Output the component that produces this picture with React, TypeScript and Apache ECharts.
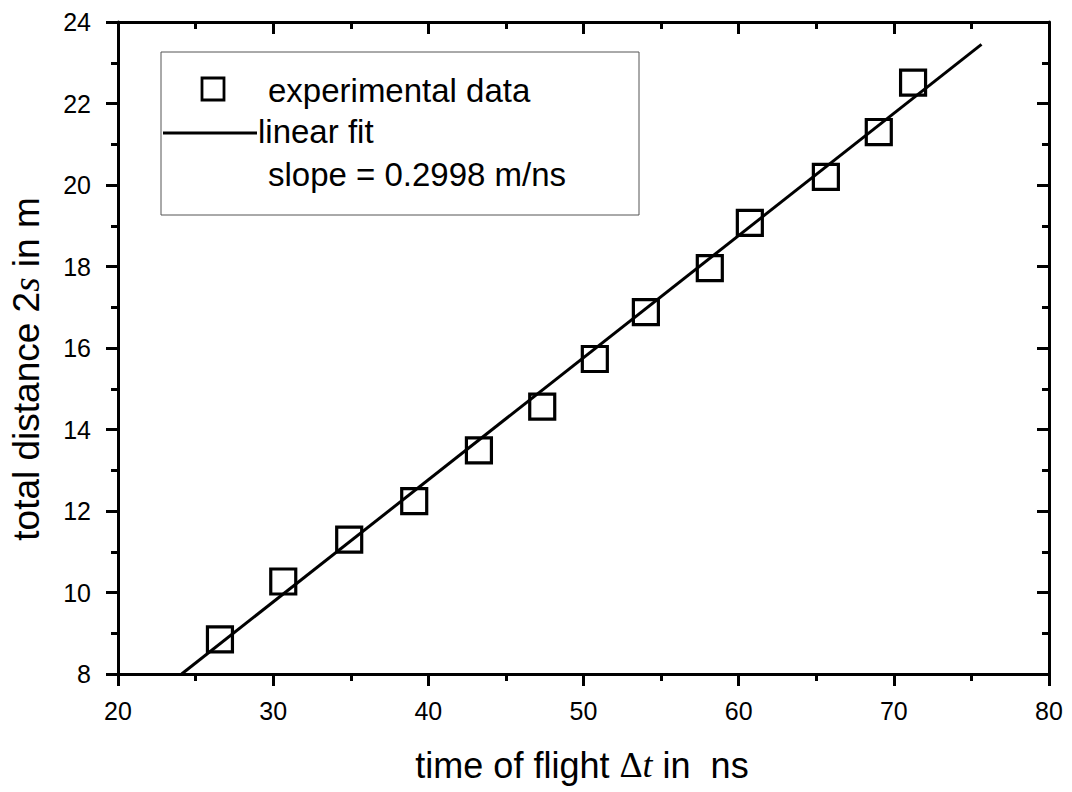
import React, { useEffect, useRef } from "react";
import * as echarts from "echarts";

const xTicks = [20, 30, 40, 50, 60, 70, 80];
const yTicks = [8, 10, 12, 14, 16, 18, 20, 22, 24];

const timeNs = [26.57, 30.65, 34.9, 39.09, 43.26, 47.34, 50.73, 54.02, 58.14, 60.72, 65.62, 69.03, 71.24];
const distanceM = [8.85, 10.27, 11.3, 12.24, 13.49, 14.56, 15.73, 16.88, 17.96, 19.07, 20.2, 21.3, 22.51];

const fitX = [24.1, 75.65];
const fitY = [8.0, 23.45];

const legendLabels = ["experimental data", "linear fit", "slope = 0.2998 m/ns"];

const SANS = "'Liberation Sans', Arial, sans-serif";
const SERIF = "'Liberation Serif', 'Times New Roman', serif";

export default function App() {
  const ref = useRef<HTMLDivElement>(null);

  useEffect(() => {
    if (!ref.current) return;
    const chart = echarts.init(ref.current, undefined, { renderer: "svg" });

    const xStep = xTicks[1] - xTicks[0];
    const yStep = yTicks[1] - yTicks[0];

    const axisCommon = {
      axisLine: { show: true, onZero: false, lineStyle: { color: "#000", width: 3, opacity: 1 } },
      splitLine: { show: false },
      minorSplitLine: { show: false },
    };
    const tickStyle = { color: "#000", width: 3, opacity: 1 };

    const option: any = {
      animation: false,
      backgroundColor: "#fff",
      grid: { left: 118, right: 23, top: 22, bottom: 118 },
      xAxis: [
        {
          type: "value",
          position: "bottom",
          min: xTicks[0],
          max: xTicks[xTicks.length - 1],
          interval: xStep,
          ...axisCommon,
          axisTick: { show: true, inside: false, length: 12, lineStyle: tickStyle },
          minorTick: { show: true, splitNumber: 2, length: 7, lineStyle: tickStyle },
          axisLabel: { show: true, margin: 24, color: "#000", fontSize: 25, fontFamily: SANS },
        },
        {
          type: "value",
          position: "top",
          min: xTicks[0],
          max: xTicks[xTicks.length - 1],
          interval: xStep,
          ...axisCommon,
          axisTick: { show: true, inside: true, length: 12, lineStyle: tickStyle },
          minorTick: { show: true, splitNumber: 2, length: 7, lineStyle: tickStyle },
          axisLabel: { show: false },
        },
      ],
      yAxis: [
        {
          type: "value",
          position: "left",
          min: yTicks[0],
          max: yTicks[yTicks.length - 1],
          interval: yStep,
          ...axisCommon,
          axisTick: { show: true, inside: false, length: 12, lineStyle: tickStyle },
          minorTick: { show: true, splitNumber: 2, length: 7, lineStyle: tickStyle },
          axisLabel: { show: true, margin: 27, color: "#000", fontSize: 25, fontFamily: SANS },
        },
        {
          type: "value",
          position: "right",
          min: yTicks[0],
          max: yTicks[yTicks.length - 1],
          interval: yStep,
          ...axisCommon,
          axisTick: { show: true, inside: true, length: 12, lineStyle: tickStyle },
          minorTick: { show: true, splitNumber: 2, length: 7, lineStyle: tickStyle },
          axisLabel: { show: false },
        },
      ],
      series: [
        {
          name: "linear fit",
          type: "line",
          xAxisIndex: 0,
          yAxisIndex: 0,
          data: fitX.map((x, i) => [x, fitY[i]]),
          showSymbol: false,
          symbol: "none",
          lineStyle: { color: "#000", width: 3, opacity: 1 },
          z: 2,
        },
        {
          name: "experimental data",
          type: "scatter",
          xAxisIndex: 0,
          yAxisIndex: 0,
          data: timeNs.map((x, i) => [x, distanceM[i]]),
          symbol: "rect",
          symbolSize: 25,
          itemStyle: { color: "transparent", borderColor: "#000", borderWidth: 3.2, opacity: 1 },
          z: 3,
        },
      ],
      graphic: [
        {
          type: "rect",
          shape: { x: 161, y: 52, width: 478, height: 163 },
          style: { fill: "#fff", stroke: "#555", lineWidth: 1 },
          z: 10,
        },
        {
          type: "rect",
          shape: { x: 202, y: 78, width: 22, height: 22 },
          style: { fill: "none", stroke: "#000", lineWidth: 2.8 },
          z: 11,
        },
        {
          type: "line",
          shape: { x1: 163, y1: 133, x2: 257, y2: 133 },
          style: { stroke: "#000", lineWidth: 2.8 },
          z: 11,
        },
        {
          type: "text",
          x: 268,
          y: 90,
          style: { text: legendLabels[0], fontSize: 33, fontFamily: SANS, fill: "#000", align: "left", verticalAlign: "middle" },
          z: 11,
        },
        {
          type: "text",
          x: 258,
          y: 131,
          style: { text: legendLabels[1], fontSize: 33, fontFamily: SANS, fill: "#000", align: "left", verticalAlign: "middle" },
          z: 11,
        },
        {
          type: "text",
          x: 268,
          y: 174,
          style: { text: legendLabels[2], fontSize: 33, fontFamily: SANS, fill: "#000", align: "left", verticalAlign: "middle" },
          z: 11,
        },
        {
          type: "text",
          x: 582,
          y: 765,
          style: {
            text: "time of flight {d|Δ}{t|t} in  ns",
            fontSize: 36,
            fontFamily: SANS,
            fill: "#000",
            align: "center",
            verticalAlign: "middle",
            rich: {
              d: { fontSize: 36, fontFamily: SERIF, fill: "#000" },
              t: { fontSize: 36, fontFamily: SERIF, fontStyle: "italic", fill: "#000" },
            },
          },
          z: 11,
        },
        {
          type: "text",
          x: 26,
          y: 369,
          rotation: Math.PI / 2,
          style: {
            text: "total distance 2{s|s} in m",
            fontSize: 37,
            fontFamily: SANS,
            fill: "#000",
            align: "center",
            verticalAlign: "middle",
            rich: {
              s: { fontSize: 37, fontFamily: SERIF, fontStyle: "italic", fill: "#000" },
            },
          },
          z: 11,
        },
      ],
    };

    chart.setOption(option);
    return () => chart.dispose();
  }, []);

  return (
    <div
      ref={ref}
      style={{ position: "fixed", left: 0, top: 0, width: 1072, height: 792, background: "#fff" }}
    />
  );
}
